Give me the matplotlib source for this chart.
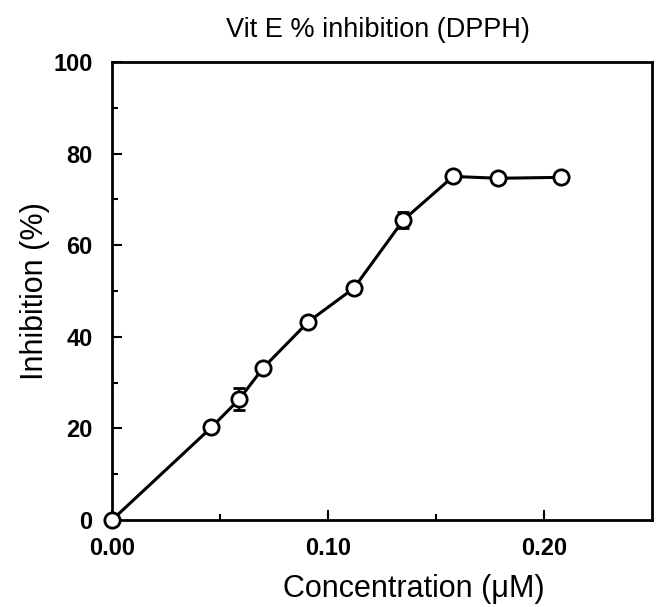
import matplotlib
matplotlib.use("Agg")
import matplotlib.pyplot as plt
from matplotlib.ticker import MultipleLocator, FixedLocator

plt.rcParams['font.family'] = ['Liberation Sans', 'DejaVu Sans']

# Data
concentration = [0.0, 0.046, 0.059, 0.070, 0.091, 0.112, 0.135, 0.158, 0.179, 0.208]
inhibition = [0.0, 20.2, 26.4, 33.2, 43.3, 50.6, 65.5, 75.0, 74.6, 74.8]
inhibition_err = [0.0, 0.5, 2.4, 0.5, 0.5, 0.5, 1.8, 0.5, 0.5, 0.5]

x_ticks = [0.0, 0.10, 0.20]
x_ticklabels = ["0.00", "0.10", "0.20"]
y_ticks = [0, 20, 40, 60, 80, 100]
y_ticklabels = ["0", "20", "40", "60", "80", "100"]

fig = plt.figure(figsize=(6.57, 6.07), dpi=100)
ax = fig.add_axes([0.1705, 0.1433, 0.8215, 0.7547])

ax.errorbar(concentration, inhibition, yerr=inhibition_err, color='black',
            lw=2.2, marker='o', ms=11, mfc='white', mec='black', mew=2.0,
            capsize=4, capthick=1.5, elinewidth=1.5, zorder=3, clip_on=False)

ax.set_xlim(0, 0.25)
ax.set_ylim(0, 100)
ax.set_xticks(x_ticks)
ax.set_xticklabels(x_ticklabels)
ax.set_yticks(y_ticks)
ax.set_yticklabels(y_ticklabels)
ax.xaxis.set_minor_locator(FixedLocator([0.05, 0.15]))
ax.yaxis.set_minor_locator(MultipleLocator(10))

ax.tick_params(which='both', direction='in', top=False, right=False, width=1.5)
ax.tick_params(which='major', length=7, labelsize=17)
ax.tick_params(axis='x', which='major', pad=12)
ax.tick_params(axis='y', which='major', pad=14)
ax.tick_params(which='minor', length=4)
for lbl in ax.get_xticklabels() + ax.get_yticklabels():
    lbl.set_fontweight('bold')

for sp in ax.spines.values():
    sp.set_linewidth(2.0)

ax.set_xlabel('Concentration (μM)', fontsize=22)
ax.xaxis.set_label_coords(0.56, -0.118)
ax.set_ylabel('Inhibition (%)', fontsize=22)
ax.yaxis.set_label_coords(-0.114, 0.5)
fig.text(0.575, 0.95, 'Vit E % inhibition (DPPH)', fontsize=19.5, ha='center', va='center')

fig.savefig('out.png', dpi=100)
